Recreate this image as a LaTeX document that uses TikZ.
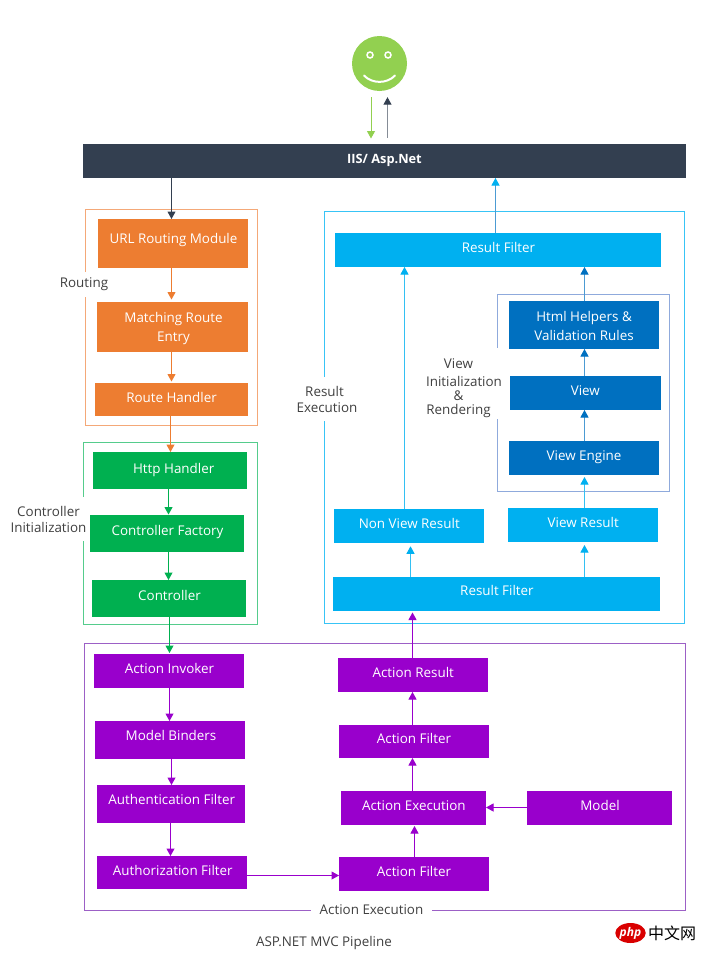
\documentclass[tikz,border=0pt]{standalone}
\usepackage{fontspec}
\setmainfont{Open Sans}
\newfontfamily\cjkfont{Noto Sans CJK SC}
\usetikzlibrary{arrows.meta,calc,shapes.geometric}
\definecolor{cdark}{HTML}{333F50}
\definecolor{corange}{HTML}{ED7D31}
\definecolor{cgreen}{HTML}{00B050}
\definecolor{cpurple}{HTML}{9900CC}
\definecolor{csky}{HTML}{00B0F0}
\definecolor{cblue}{HTML}{0070C0}
\definecolor{csmile}{HTML}{92D050}
\definecolor{ctxt}{HTML}{404040}
\definecolor{forange}{HTML}{F4A878}
\definecolor{fgreen}{HTML}{55CC8C}
\definecolor{fsky}{HTML}{38C4F6}
\definecolor{finner}{HTML}{8FAADC}
\definecolor{fpurple}{HTML}{9C60C6}
\tikzset{
  boxnode/.style={rectangle,inner sep=0pt,outer sep=0pt,text=white,font=\fontsize{13.4}{19}\selectfont},
  framebox/.style={line width=1pt,fill=none},
  lab/.style={fill=white,inner xsep=1pt,inner ysep=0pt,text=ctxt,align=center,font=\fontsize{13.4}{16}\selectfont},
  arr/.style={line width=1pt},
  tip/.style={arrows=-{Triangle[length=7.5pt,width=8pt,color=#1]}},
}
% name, x1, y1, x2, y2, fill, text centre y, text x offset, text
\newcommand{\bx}[9]{%
  \pgfmathsetmacro{\rz}{(#3+#5)/2-#7-4.8}%
  \pgfmathsetmacro{\dz}{2*#8}%
  \node[boxnode,fill=#6,minimum width={(#4-#2)*1pt},minimum height={(#5-#3)*1pt}] (#1) at ({(#2+#4)/2},{(#3+#5)/2})
    {\raisebox{\rz pt}[0pt][0pt]{\hspace*{\dz pt}#9}};}
% [gap at head], colour, line colour, from, to, x
\newcommand{\vlink}[6][0]{%
  \coordinate (cx) at (#6,0);
  \draw[arr,draw=#3,tip=#2,shorten >=#1pt] (#4 -| cx) -- (#5 -| cx);}
\newcommand{\hlink}[4]{%
  \coordinate (cy) at (0,#4);
  \draw[arr,draw=#1,tip=#1] (#2 |- cy) -- (#3 |- cy);}
\begin{document}
\begin{tikzpicture}[x=1pt,y=-1pt]
\path[use as bounding box,fill=white] (0,0) rectangle (707,953);

% frames
\draw[framebox,draw=forange] (85.5,209.5) rectangle (257.5,425.5);
\draw[framebox,draw=fgreen] (83.5,442.5) rectangle (257.5,624.5);
\draw[framebox,draw=fsky] (324.5,211.5) rectangle (684.5,623.5);
\draw[framebox,draw=finner] (497.5,294.5) rectangle (669.5,491.5);
\draw[framebox,draw=fpurple] (84.5,643.5) rectangle (685.5,910.5);

% frame labels
\node[lab,minimum height=25pt] (lrouting) at (84,284.5) {Routing};
\node[lab,minimum height=44pt] (lctrl) at (48.5,519) {Controller\\Initialization};
\node[lab,minimum height=44pt] (lresult) at (327,399) {Result\kern 5pt\\Execution};
\node[fill=white,inner sep=0pt,minimum width=12pt,minimum height=71pt] (lviewgap) at (497.5,383.5) {};
\node[lab,fill=none,font=\fontsize{13.4}{14}\selectfont] (lview) at (464,388.5) {View\kern 11pt\\[4pt]Initialization\\\&\kern 11pt\\Rendering\kern 11pt};
\node[lab,minimum width=121pt,minimum height=8pt] (laction) at (371.5,909.5) {Action Execution};
\node[text=ctxt,font=\fontsize{13.4}{16}\selectfont] (lpipe) at (324,943.5) {ASP.NET MVC Pipeline};

% smiley
\node[circle,fill=csmile,minimum size=55pt,inner sep=0pt] (smiley) at (379.5,63.5) {};
\draw[white,line width=1.5pt,fill=csmile] (370,55) circle (3);
\draw[white,line width=1.5pt,fill=csmile] (388,55) circle (3);
\draw[white,line width=2pt,line cap=round] (364,75.5) .. controls (372,84) and (387,84) .. (395,75.5);

% top bar
\node[boxnode,fill=cdark,minimum width=603pt,minimum height=34pt,font=\fontsize{12.8}{16}\selectfont\bfseries] (iis) at (384.5,161)
  {\raisebox{-2pt}[0pt][0pt]{IIS/ Asp.Net}};

% routing
\bx{url}{98}{219}{248}{268}{corange}{239}{0.5}{URL Routing Module}
\bx{match}{97}{302}{248}{352}{corange}{326.5}{1}{\begin{tabular}{@{}c@{}}Matching Route\\Entry\end{tabular}}
\bx{route}{95}{383}{248}{416}{corange}{397.5}{0}{Route Handler}
% controller
\bx{http}{93}{452}{247}{489}{cgreen}{468.5}{3.7}{Http Handler}
\bx{factory}{90}{514.5}{244}{552}{cgreen}{531}{0.5}{Controller Factory}
\bx{ctrl}{92}{580}{246}{617}{cgreen}{596}{0.5}{Controller}
% action, left
\bx{invoker}{94}{654}{244}{688}{cpurple}{668.5}{0.5}{Action Invoker}
\bx{binders}{95}{721}{245}{759}{cpurple}{735.5}{1}{Model Binders}
\bx{auth}{97}{785}{245}{823}{cpurple}{799.5}{0.7}{Authentication Filter}
\bx{authz}{97}{856}{247}{889}{cpurple}{870.5}{0.8}{Authorization Filter}
% action, right
\bx{afa}{339}{857}{489}{890.5}{cpurple}{871.5}{0}{Action Filter}
\bx{aexec}{341}{791}{486}{825}{cpurple}{805.5}{0.3}{Action Execution}
\bx{model}{527}{791}{672}{825}{cpurple}{805.5}{0.5}{Model}
\bx{afb}{339}{725}{489}{758}{cpurple}{739}{0}{Action Filter}
\bx{ares}{337.5}{658}{488}{692}{cpurple}{672.5}{0.5}{Action Result}
% result
\bx{rfb}{332.5}{576.5}{660}{610.5}{csky}{590.5}{0.7}{Result Filter}
\bx{nonv}{333.5}{509}{484}{543.3}{csky}{523.5}{0.5}{Non View Result}
\bx{vres}{507.5}{508}{658}{542}{csky}{522.5}{0.5}{View Result}
\bx{rft}{335}{233}{661}{267}{csky}{247.5}{0.5}{Result Filter}
% view
\bx{engine}{508.5}{441}{659}{475}{cblue}{455.5}{0.3}{View Engine}
\bx{view}{509.5}{376}{660.5}{410}{cblue}{390.5}{0.3}{View}
\bx{html}{508.5}{301}{659}{349}{cblue}{326}{0.3}{\begin{tabular}{@{}c@{}}Html Helpers \&\\Validation Rules\end{tabular}}

% connectors
\path (smiley.south) ++(-8.5,6) coordinate (downstart);
\path (smiley.south) ++(8,6) coordinate (upend);
\coordinate (cx) at (371,0);
\draw[arr,draw=csmile,tip=csmile,shorten >=5.5pt] (downstart -| cx) -- (iis.north -| cx);
\coordinate (cx) at (387.5,0);
\draw[arr,draw=cdark!60,tip=cdark,shorten <=6.5pt] (iis.north -| cx) -- (upend -| cx);

\vlink{cdark}{cdark}{iis.south}{url.north}{171.5}
\vlink[2.5]{corange}{corange}{url.south}{match.north}{171.5}
\vlink[1.5]{corange}{corange}{match.south}{route.north}{171.5}
\vlink{corange}{corange}{route.south}{http.north}{170.5}
\vlink{cgreen}{cgreen}{http.south}{factory.north}{168.5}
\vlink{cgreen}{cgreen}{factory.south}{ctrl.north}{168.5}
\vlink[1]{cgreen}{cgreen}{ctrl.south}{invoker.north}{169.5}
\vlink{cpurple}{cpurple}{invoker.south}{binders.north}{169.5}
\vlink{cpurple}{cpurple}{binders.south}{auth.north}{171.5}
\vlink{cpurple}{cpurple}{auth.south}{authz.north}{170.5}
\hlink{cpurple}{authz.east}{afa.west}{875.5}
\vlink[1]{cpurple}{cpurple}{afa.north}{aexec.south}{414.5}
\vlink{cpurple}{cpurple}{aexec.north}{afb.south}{412.5}
\vlink{cpurple}{cpurple}{afb.north}{ares.south}{412.5}
\vlink[2]{cpurple}{cpurple}{ares.north}{rfb.south}{412.5}
\hlink{cpurple}{model.west}{aexec.east}{807.5}
\vlink[3]{csky}{csky!80}{rfb.north}{nonv.south}{410.5}
\vlink[3]{csky}{csky!80}{rfb.north}{vres.south}{584.5}
\vlink{csky}{csky!80}{nonv.north}{rft.south}{404.5}
\vlink[2]{csky}{csky!80}{vres.north}{engine.south}{584.5}
\vlink{cblue}{cblue!70}{engine.north}{view.south}{584.5}
\vlink{cblue}{cblue!70}{view.north}{html.south}{584.5}
\vlink{cblue}{cblue!70}{html.north}{rft.south}{584.5}
\vlink{csky}{cblue!70}{rft.north}{iis.south}{495.5}

% watermark
\node[ellipse,fill=red!85!black,minimum width=29pt,minimum height=20pt,inner sep=0pt,text=white,font=\fontsize{12}{12}\selectfont\bfseries\itshape] (php) at (630.5,933) {php};
\node[text=black,font=\fontsize{16}{16}\cjkfont,inner sep=0pt] (zhwm) at (672,933) {中文网};
\end{tikzpicture}
\end{document}
